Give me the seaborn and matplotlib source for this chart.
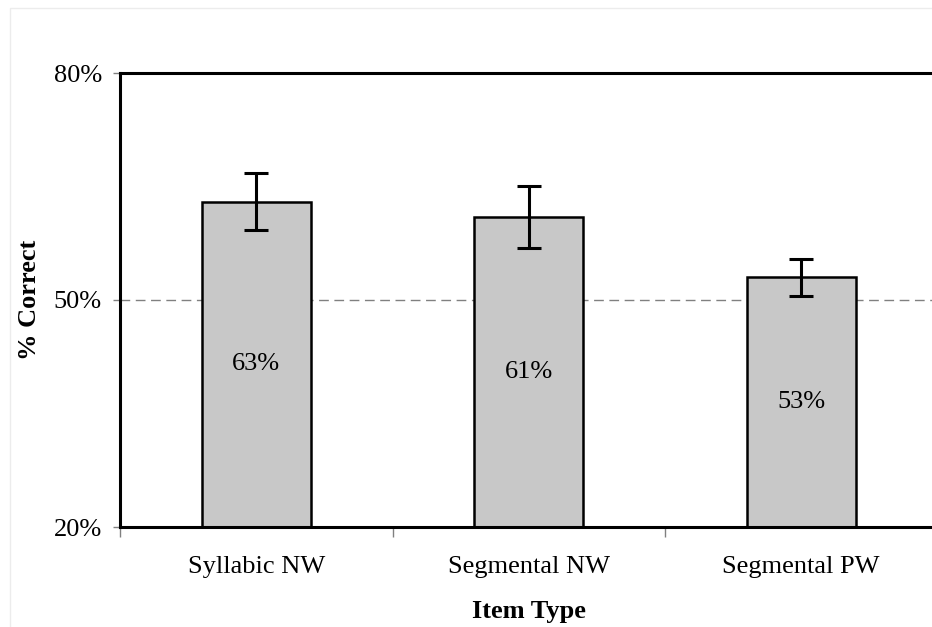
import matplotlib
matplotlib.use("Agg")
import matplotlib.pyplot as plt
import seaborn as sns
import pandas as pd
from matplotlib.patches import Rectangle

item_types = ["Syllabic NW", "Segmental NW", "Segmental PW"]
pct_correct = [63, 61, 53]
std_error = [3.75, 4.1, 2.45]
y_ticks = [20, 50, 80]
chance_level = 50

df = pd.DataFrame({"Item Type": item_types, "% Correct": pct_correct})

sns.set_style("white")
plt.rcParams["font.family"] = ["Liberation Serif", "DejaVu Serif"]
plt.rcParams["text.color"] = "black"
plt.rcParams["axes.labelcolor"] = "black"
plt.rcParams["xtick.labelcolor"] = "black"
plt.rcParams["ytick.labelcolor"] = "black"

fig = plt.figure(figsize=(9.32, 6.27), dpi=100)
W, H = 932, 627
left_px, right_px, top_px, bot_px = 120, 937.5, 73, 527
ax = fig.add_axes([left_px / W, 1 - bot_px / H,
                   (right_px - left_px) / W, (bot_px - top_px) / H])

# faint page border
fig.patches.append(Rectangle((10 / W, -0.1), 1.1, 1 - 8 / H + 0.1,
                             transform=fig.transFigure, fill=False,
                             edgecolor="#ececec", linewidth=1.0, zorder=0))

ax.axhline(chance_level, color="#808080", linestyle=(0, (7, 4)),
           linewidth=1.0, zorder=0)

sns.barplot(data=df, x="Item Type", y="% Correct", ax=ax, color="#c8c8c8",
            edgecolor="black", linewidth=1.8, width=0.4, saturation=1,
            errorbar=None, zorder=2)

ax.errorbar(range(len(item_types)), pct_correct, yerr=std_error, fmt="none",
            ecolor="black", elinewidth=2.2, capsize=8.5, capthick=2.2,
            zorder=3)

for i, v in enumerate(pct_correct):
    ax.text(i, (20 + v) / 2, f"{v}%", ha="center", va="center",
            fontsize=19, color="black", zorder=4)

ax.set_ylim(20, 80)
ax.set_xlim(-0.5, 2.5)
ax.set_yticks(y_ticks)
ax.set_yticklabels([f"{t}%" for t in y_ticks], fontsize=19)
ax.set_xticks([0, 1, 2])
ax.set_xticklabels(item_types, fontsize=19)
ax.tick_params(axis="x", length=0, pad=21)
ax.tick_params(axis="y", length=5, width=1, color="#808080", pad=8,
               direction="out", left=True)

# separators between categories on the x axis
ax.set_xticks([-0.5, 0.5, 1.5], minor=True)
ax.tick_params(axis="x", which="minor", length=7, width=1, color="#808080",
               direction="out", bottom=True)

for side in ["left", "top", "bottom", "right"]:
    ax.spines[side].set_visible(True)
    ax.spines[side].set_color("black")
    ax.spines[side].set_linewidth(2.2)

ax.set_xlabel("Item Type", fontsize=19, fontweight="bold", labelpad=16)
ax.set_ylabel("% Correct", fontsize=19, fontweight="bold", labelpad=9)

fig.savefig("out.png", dpi=100)
